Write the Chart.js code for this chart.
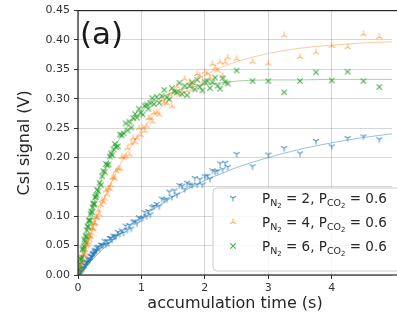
<!DOCTYPE html>
<html>
<head>
<meta charset="utf-8">
<script src="https://cdn.jsdelivr.net/npm/chart.js@4.4.1/dist/chart.umd.min.js"></script>
<style>
  html, body { margin: 0; padding: 0; background: #fff; }
</style>
</head>
<body>
<canvas id="chart" width="397" height="321"></canvas>
<script>
// ---- values ----
const xTicks = [0, 1, 2, 3, 4];
const yTicks = [0, 0.05, 0.10, 0.15, 0.20, 0.25, 0.30, 0.35, 0.40, 0.45];

// dense sampling at short accumulation times, then every 0.25 s
const tDense = [0.00, 0.01, 0.02, 0.03, 0.04, 0.05, 0.06, 0.07, 0.08, 0.09,
  0.10, 0.11, 0.12, 0.13, 0.14, 0.15, 0.16, 0.17, 0.18, 0.19,
  0.20, 0.21, 0.22, 0.23, 0.24, 0.25, 0.26, 0.27, 0.28, 0.29, 0.30,
  0.32, 0.34, 0.36, 0.38, 0.40, 0.42, 0.44, 0.46, 0.48, 0.50, 0.52, 0.54, 0.56, 0.58, 0.60,
  0.63, 0.66, 0.69, 0.72, 0.75, 0.78, 0.81, 0.84, 0.87, 0.90,
  0.93, 0.96, 0.99, 1.02, 1.05, 1.08, 1.11, 1.14, 1.17, 1.20,
  1.24, 1.28, 1.32, 1.36, 1.40, 1.44, 1.48, 1.52, 1.56, 1.60,
  1.64, 1.68, 1.72, 1.76, 1.80, 1.84, 1.88, 1.92, 1.96, 2.00,
  2.04, 2.08, 2.12, 2.16, 2.20, 2.24, 2.28, 2.32, 2.36];
const tSparse = [2.5, 2.75, 3.0, 3.25, 3.5, 3.75, 4.0, 4.25, 4.5, 4.75];

const blueDense = [0.000, 0.003, 0.001, 0.007, 0.006, 0.007, 0.012, 0.009, 0.013, 0.011,
  0.017, 0.018, 0.016, 0.022, 0.021, 0.022, 0.027, 0.024, 0.028, 0.026,
  0.032, 0.033, 0.031, 0.037, 0.036, 0.037, 0.042, 0.039, 0.043, 0.041, 0.047,
  0.048, 0.045, 0.052, 0.051, 0.051, 0.058, 0.052, 0.058, 0.054, 0.063, 0.063, 0.060, 0.067, 0.066, 0.066,
  0.073, 0.070, 0.076, 0.072, 0.084, 0.077, 0.085, 0.079, 0.091, 0.091,
  0.088, 0.098, 0.096, 0.097, 0.107, 0.100, 0.109, 0.103, 0.116, 0.117,
  0.121, 0.117, 0.130, 0.128, 0.129, 0.142, 0.133, 0.144, 0.137, 0.153,
  0.152, 0.146, 0.157, 0.154, 0.153, 0.165, 0.154, 0.163, 0.154, 0.168,
  0.169, 0.164, 0.178, 0.176, 0.177, 0.190, 0.180, 0.191, 0.184];
const blueSparse = [0.206, 0.185, 0.205, 0.216, 0.207, 0.228, 0.219, 0.233, 0.236, 0.231];

const orangeDense = [0.000, 0.002, 0.011, 0.012, 0.011, 0.021, 0.022, 0.023, 0.033, 0.034,
  0.035, 0.043, 0.038, 0.049, 0.054, 0.051, 0.056, 0.065, 0.060, 0.067,
  0.065, 0.071, 0.079, 0.080, 0.078, 0.087, 0.088, 0.088, 0.098, 0.098, 0.098,
  0.110, 0.103, 0.119, 0.127, 0.124, 0.130, 0.144, 0.137, 0.148, 0.146, 0.153, 0.165, 0.167, 0.164, 0.177,
  0.181, 0.181, 0.201, 0.200, 0.202, 0.216, 0.205, 0.224, 0.233, 0.226,
  0.233, 0.250, 0.238, 0.251, 0.245, 0.253, 0.267, 0.267, 0.261, 0.276,
  0.277, 0.273, 0.298, 0.294, 0.292, 0.308, 0.287, 0.312, 0.321, 0.307,
  0.313, 0.334, 0.313, 0.328, 0.316, 0.325, 0.342, 0.339, 0.326, 0.346,
  0.343, 0.336, 0.359, 0.352, 0.348, 0.362, 0.339, 0.362, 0.370];
const orangeSparse = [0.368, 0.363, 0.360, 0.408, 0.371, 0.379, 0.390, 0.388, 0.410, 0.405];

const greenDense = [0.000, 0.008, 0.009, 0.019, 0.027, 0.027, 0.030, 0.043, 0.045, 0.049,
  0.060, 0.057, 0.067, 0.065, 0.076, 0.083, 0.082, 0.093, 0.092, 0.093,
  0.104, 0.108, 0.107, 0.115, 0.122, 0.120, 0.121, 0.132, 0.133, 0.136, 0.145,
  0.143, 0.157, 0.153, 0.168, 0.177, 0.175, 0.189, 0.187, 0.188, 0.202, 0.207, 0.204, 0.214, 0.223, 0.218,
  0.219, 0.239, 0.238, 0.241, 0.258, 0.246, 0.261, 0.251, 0.267, 0.274,
  0.268, 0.283, 0.276, 0.273, 0.288, 0.290, 0.283, 0.293, 0.301, 0.291,
  0.303, 0.293, 0.305, 0.315, 0.302, 0.299, 0.318, 0.312, 0.311, 0.327,
  0.308, 0.322, 0.306, 0.322, 0.328, 0.316, 0.332, 0.320, 0.314, 0.329,
  0.330, 0.318, 0.328, 0.336, 0.322, 0.317, 0.335, 0.328, 0.326];
const greenSparse = [0.348, 0.330, 0.330, 0.311, 0.330, 0.345, 0.331, 0.346, 0.330, 0.320];

// fitted curves, read at these times
const fitT = [0, 0.05, 0.1, 0.15, 0.2, 0.3, 0.4, 0.5, 0.6, 0.7, 0.8, 1.0,
  1.2, 1.4, 1.6, 1.8, 2.0, 2.25, 2.5, 3.0, 3.5, 4.0, 4.5, 5.0];
const blueFit = [0, 0.006, 0.012, 0.018, 0.023, 0.034, 0.045, 0.055, 0.064, 0.073, 0.082, 0.098,
  0.113, 0.127, 0.139, 0.150, 0.161, 0.172, 0.183, 0.200, 0.214, 0.225, 0.234, 0.241];
const orangeFit = [0, 0.019, 0.036, 0.053, 0.069, 0.099, 0.127, 0.152, 0.174, 0.195, 0.213, 0.246,
  0.272, 0.295, 0.313, 0.328, 0.340, 0.353, 0.363, 0.377, 0.386, 0.391, 0.395, 0.397];
const greenFit = [0, 0.029, 0.055, 0.080, 0.102, 0.140, 0.172, 0.199, 0.221, 0.240, 0.255, 0.279,
  0.295, 0.307, 0.315, 0.320, 0.324, 0.327, 0.330, 0.332, 0.332, 0.333, 0.333, 0.333];

const legendN2 = ["2", "4", "6"];
const legendCO2 = "0.6";

// ---- styling ----
const BLUE = "rgba(31,119,180,0.75)";
const ORANGE = "rgba(255,127,14,0.6)";
const GREEN = "rgba(44,160,44,0.85)";
const FONT = "'DejaVu Sans', sans-serif";

function makeMarker(kind, color) {
  const c = document.createElement("canvas");
  c.width = 10; c.height = 10;
  const g = c.getContext("2d");
  const m = 5, r = 3.5;
  g.strokeStyle = color;
  g.lineWidth = 1.1;
  g.beginPath();
  if (kind === "x") {
    const d = r * 0.75;
    g.moveTo(m - d, m - d); g.lineTo(m + d, m + d);
    g.moveTo(m - d, m + d); g.lineTo(m + d, m - d);
  } else {
    const s = kind === "down" ? 1 : -1;
    g.moveTo(m, m); g.lineTo(m, m + s * r);
    g.moveTo(m, m); g.lineTo(m - 0.866 * r, m - s * 0.5 * r);
    g.moveTo(m, m); g.lineTo(m + 0.866 * r, m - s * 0.5 * r);
  }
  g.stroke();
  return c;
}

const markBlue = makeMarker("down", BLUE);
const markOrange = makeMarker("up", ORANGE);
const markGreen = makeMarker("x", GREEN);
const legendMarks = [markBlue, markOrange, markGreen];

const pts = (ts, vs) => ts.map((t, i) => ({ x: t, y: vs[i] }));

function scatterSet(label, dense, sparse, mark, order) {
  return {
    label: label,
    data: pts(tDense, dense).concat(pts(tSparse, sparse)),
    pointStyle: mark,
    showLine: false,
    order: order
  };
}

function fitSet(label, vals, color, order) {
  return {
    label: label,
    data: pts(fitT, vals),
    showLine: true,
    borderColor: color,
    borderWidth: 1,
    pointRadius: 0,
    cubicInterpolationMode: "monotone",
    order: order
  };
}

// ---- frame, (a) label and legend with subscripts ----
const decorations = {
  id: "decorations",
  afterDraw(chart) {
    const ctx = chart.ctx;
    const a = chart.chartArea;
    ctx.save();

    ctx.strokeStyle = "#262626";
    ctx.lineWidth = 1.2;
    ctx.strokeRect(a.left, a.top, a.right - a.left + 10, a.bottom - a.top);

    ctx.fillStyle = "#1a1a1a";
    ctx.font = "31px " + FONT;
    ctx.textBaseline = "alphabetic";
    ctx.fillText("(a)", a.left + 2, a.top + 33);

    // legend box
    ctx.beginPath();
    ctx.roundRect(213, 188, 200, 83, 4);
    ctx.fillStyle = "rgba(255,255,255,0.85)";
    ctx.fill();
    ctx.strokeStyle = "#cccccc";
    ctx.lineWidth = 1;
    ctx.stroke();

    const main = 13.5, sub1 = 9.5, sub2 = 7;
    legendN2.forEach((n, i) => {
      const y = 203 + i * 24;
      const mk = legendMarks[i];
      ctx.drawImage(mk, 233 - mk.width / 2, y - 5 - mk.height / 2);
      const parts = [
        ["P", 0], ["N", 1], ["2", 2], [" = " + n + ", P", 0],
        ["CO", 1], ["2", 2], [" = " + legendCO2, 0]
      ];
      let x = 262;
      ctx.fillStyle = "#262626";
      parts.forEach(([txt, lvl]) => {
        const size = lvl === 0 ? main : (lvl === 1 ? sub1 : sub2);
        const dy = lvl === 0 ? 0 : (lvl === 1 ? 3 : 5);
        ctx.font = size + "px " + FONT;
        ctx.fillText(txt, x, y + dy);
        x += ctx.measureText(txt).width;
      });
    });
    ctx.restore();
  }
};

new Chart(document.getElementById("chart"), {
  type: "scatter",
  data: {
    datasets: [
      scatterSet("PN2 = 2, PCO2 = 0.6", blueDense, blueSparse, markBlue, 6),
      fitSet("fit 2", blueFit, "rgba(31,119,180,0.45)", 5),
      scatterSet("PN2 = 4, PCO2 = 0.6", orangeDense, orangeSparse, markOrange, 4),
      fitSet("fit 4", orangeFit, "rgba(255,127,14,0.4)", 3),
      scatterSet("PN2 = 6, PCO2 = 0.6", greenDense, greenSparse, markGreen, 2),
      fitSet("fit 6", greenFit, "rgba(44,160,44,0.45)", 1)
    ]
  },
  options: {
    responsive: false,
    devicePixelRatio: 1,
    animation: false,
    layout: { padding: { top: 8, right: 0, left: 0, bottom: 0 } },
    plugins: {
      legend: { display: false },
      tooltip: { enabled: false }
    },
    scales: {
      x: {
        type: "linear",
        min: 0,
        max: 4.95,
        afterBuildTicks: (s) => { s.ticks = xTicks.map(v => ({ value: v })); },
        afterFit: (s) => { s.height = 46; },
        border: { display: false },
        grid: { color: "rgba(0,0,0,0.16)", tickColor: "#333", tickLength: 4 },
        ticks: { color: "#333", padding: 3, font: { family: FONT, size: 11 }, maxRotation: 0 },
        title: {
          display: true,
          text: "accumulation time (s)",
          color: "#262626",
          font: { family: FONT, size: 16 },
          padding: { top: 0, bottom: 8 }
        }
      },
      y: {
        min: 0,
        max: 0.45,
        afterBuildTicks: (s) => { s.ticks = yTicks.map(v => ({ value: v })); },
        afterFit: (s) => { s.width = 78; },
        border: { display: false },
        grid: { color: "rgba(0,0,0,0.16)", tickColor: "#333", tickLength: 4 },
        ticks: {
          color: "#333",
          padding: 4,
          font: { family: FONT, size: 11 },
          callback: (v) => v.toFixed(2)
        },
        title: {
          display: true,
          text: "CsI signal (V)",
          color: "#262626",
          font: { family: FONT, size: 16 },
          padding: { top: 15, bottom: 0 }
        }
      }
    }
  },
  plugins: [decorations]
});
</script>
</body>
</html>
